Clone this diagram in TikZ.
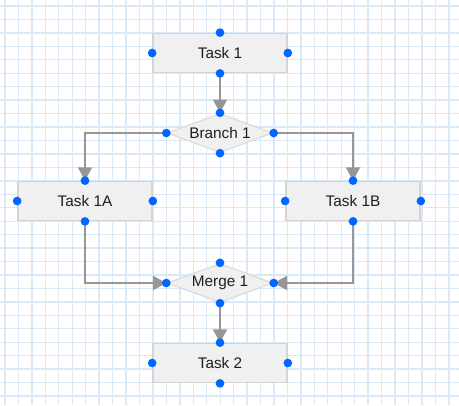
\documentclass[tikz,border=0pt]{standalone}
\usepackage{fontspec}
\setmainfont{Liberation Sans}
\usetikzlibrary{shapes.geometric,arrows.meta}

\definecolor{gridblue}{RGB}{218,233,248}
\definecolor{boxfill}{RGB}{240,240,240}
\definecolor{boxline}{RGB}{212,212,212}
\definecolor{flowgrey}{RGB}{150,150,150}
\definecolor{portblue}{RGB}{0,102,255}

\begin{document}
\begin{tikzpicture}[x=0.75pt,y=-0.75pt,
	taskbox/.style={shape=rectangle,draw=boxline,fill=boxfill,line width=1.3pt,
		minimum width=134*0.75pt,minimum height=39*0.75pt,inner sep=0pt,
		font=\fontsize{11.5}{13}\selectfont,text=black!88},
	gate/.style={shape=diamond,draw=boxline!80,fill=boxfill,line width=1pt,aspect=2.7,
		minimum width=106*0.75pt,minimum height=39*0.75pt,inner sep=0pt,
		font=\fontsize{11.5}{13}\selectfont,text=black!88},
	flow/.style={draw=flowgrey,line width=1.5pt,-{Triangle[width=10.5pt,length=10pt]}},
	port/.style={circle,fill=portblue,inner sep=0pt,minimum size=6.5pt}]

	\useasboundingbox[fill=white] (0,0) rectangle (459,405);

	% grid
	\foreach \i in {0,...,33}
		\draw[gridblue,line width=1pt] (5+\i*13.45,0) -- (5+\i*13.45,405);
	\foreach \i in {0,...,29}
		\draw[gridblue,line width=1pt] (0,6+\i*13.45) -- (459,6+\i*13.45);

	\node[taskbox] (t1)  at (220, 53)  {Task 1};
	\node[gate]    (b1)  at (220, 133) {Branch 1};
	\node[taskbox] (t1a) at (85, 201)  {Task 1A};
	\node[taskbox] (t1b) at (353, 201) {Task 1B};
	\node[gate]    (m1)  at (220, 283) {Merge 1};
	\node[taskbox] (t2)  at (220, 363) {Task 2};

	\path[flow] (t1.south) -- (b1.north);
	\path[flow] (b1.west) -| (t1a.north);
	\path[flow] (b1.east) -| (t1b.north);
	\path[flow] (t1a.south) |- (m1.west);
	\path[flow] (t1b.south) |- (m1.east);
	\path[flow] (m1.south) -- (t2.north);

	% connection points
	\foreach \n in {t1,b1,t1a,t1b,m1,t2}
		\foreach \a in {north,south,east,west}
			\node[port] at (\n.\a) {};

\end{tikzpicture}
\end{document}
